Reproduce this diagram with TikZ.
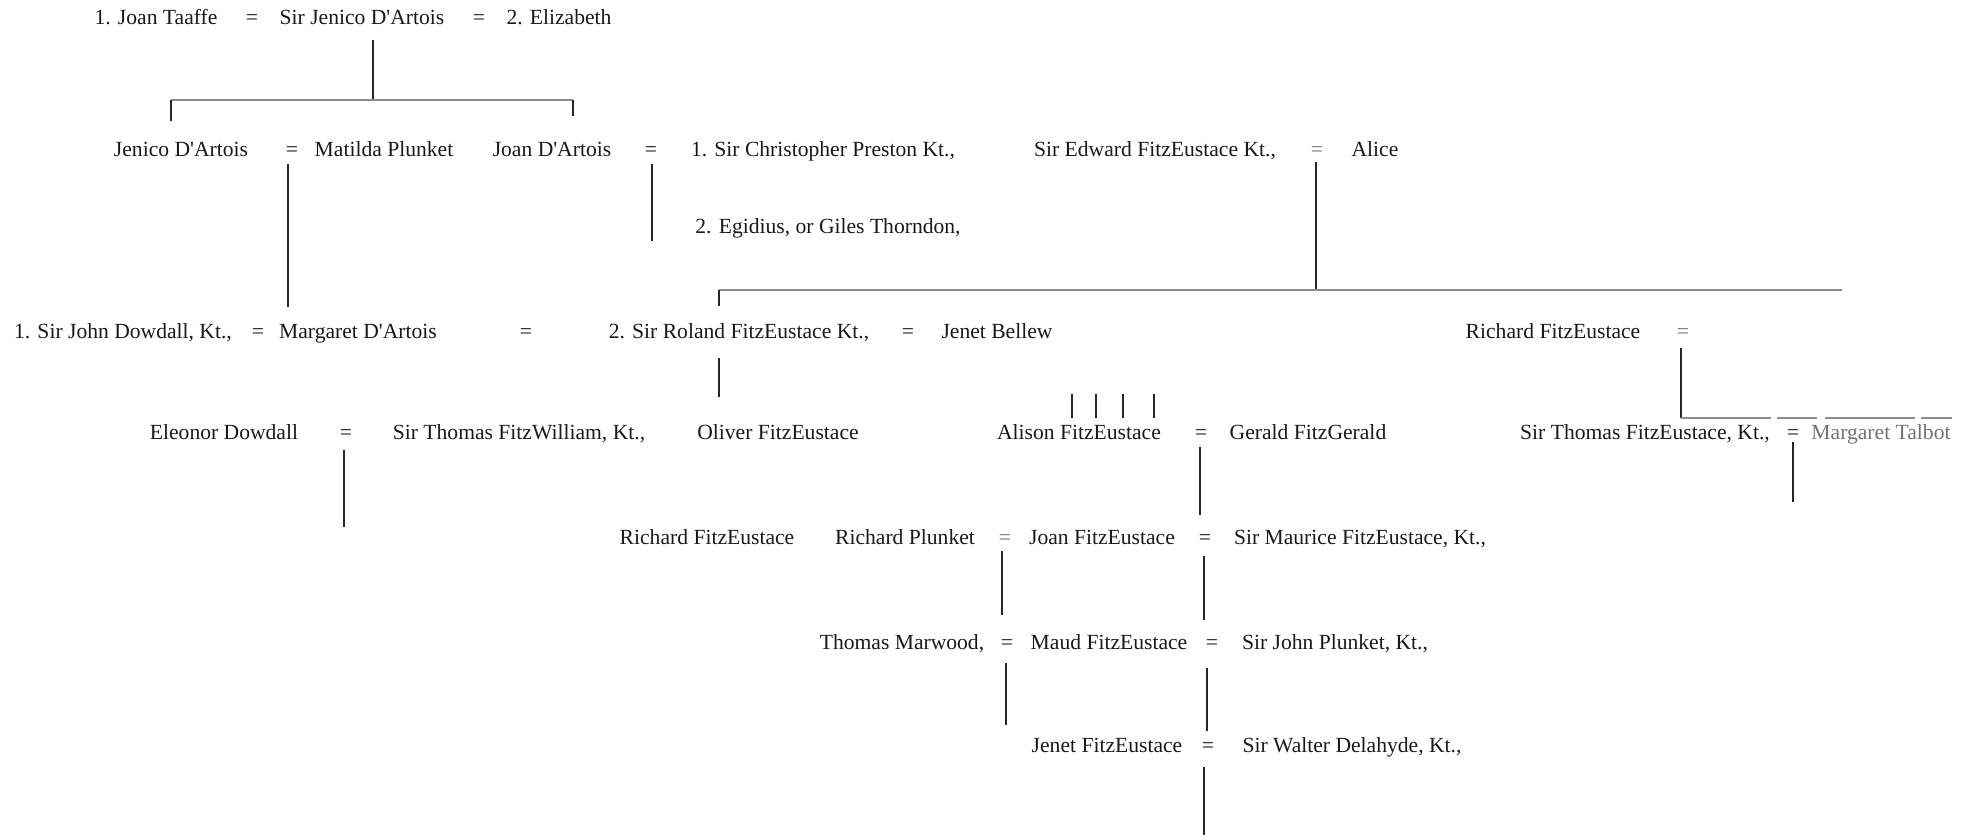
\documentclass[tikz,border=0pt]{standalone}
\usepackage{fontspec}
\setmainfont{Liberation Serif}
\newcommand{\ap}{\textquotesingle}
\begin{document}
\begin{tikzpicture}[x=0.5pt,y=-0.5pt,
  person/.style={anchor=base,inner sep=0pt,text=black!90,font=\fontsize{10.8pt}{12pt}\selectfont},
  faint/.style={person,text=black!55},
  vline/.style={draw=black!85,line width=0.8pt},
  hline/.style={draw=black!45,line width=0.7pt}]
\useasboundingbox (0,0) rectangle (1972,835);
% Row A
\node[person] (a1) at (156,25) {1. Joan Taaffe};
\node[person] (eA1) at (252,25) {=};
\node[person] (a2) at (362,25) {Sir Jenico D\ap Artois};
\node[person] (eA2) at (479,25) {=};
\node[person] (a3) at (559,25) {2. Elizabeth};
% Row B
\node[person] (b1) at (181,156) {Jenico D\ap Artois};
\node[person] (eB1) at (292,156) {=};
\node[person] (b2) at (384,156) {Matilda Plunket};
\node[person] (b3) at (552,156) {Joan D\ap Artois};
\node[person] (eB2) at (651,156) {=};
\node[person] (b4) at (823,156) {1. Sir Christopher Preston Kt.,};
\node[person] (b5) at (1155,156) {Sir Edward FitzEustace Kt.,};
\node[faint] (eB3) at (1317,156) {=};
\node[person] (b6) at (1375,156) {Alice};
\node[person] (b7) at (828,233) {2. Egidius, or Giles Thorndon,};
% Row C
\node[person] (c1) at (123,338) {1. Sir John Dowdall, Kt.,};
\node[person] (eC1) at (258,338) {=};
\node[person] (c2) at (358,338) {Margaret D\ap Artois};
\node[person] (eC2) at (526,338) {=};
\node[person] (c3) at (739,338) {2. Sir Roland FitzEustace Kt.,};
\node[person] (eC3) at (908,338) {=};
\node[person] (c4) at (997,338) {Jenet Bellew};
\node[person] (c5) at (1553,338) {Richard FitzEustace};
\node[faint] (eC4) at (1683,338) {=};
% Row D
\node[person] (d1) at (224,439) {Eleonor Dowdall};
\node[person] (eD1) at (346,439) {=};
\node[person] (d2) at (519,439) {Sir Thomas FitzWilliam, Kt.,};
\node[person] (d3) at (778,439) {Oliver FitzEustace};
\node[person] (d4) at (1079,439) {Alison FitzEustace};
\node[person] (eD2) at (1201,439) {=};
\node[person] (d5) at (1308,439) {Gerald FitzGerald};
\node[person] (d6) at (1645,439) {Sir Thomas FitzEustace, Kt.,};
\node[person] (eD3) at (1793,439) {=};
\node[faint] (d7) at (1881,439) {Margaret Talbot};
% Row E
\node[person] (e1) at (707,544) {Richard FitzEustace};
\node[person] (e2) at (905,544) {Richard Plunket};
\node[faint] (eE1) at (1005,544) {=};
\node[person] (e3) at (1102,544) {Joan FitzEustace};
\node[person] (eE2) at (1205,544) {=};
\node[person] (e4) at (1360,544) {Sir Maurice FitzEustace, Kt.,};
% Row F
\node[person] (f1) at (902,649) {Thomas Marwood,};
\node[person] (eF1) at (1007,649) {=};
\node[person] (f2) at (1109,649) {Maud FitzEustace};
\node[person] (eF2) at (1212,649) {=};
\node[person] (f3) at (1335,649) {Sir John Plunket, Kt.,};
% Row G
\node[person] (g1) at (1107,752) {Jenet FitzEustace};
\node[person] (eG1) at (1208,752) {=};
\node[person] (g2) at (1352,752) {Sir Walter Delahyde, Kt.,};

% connector coordinates
\coordinate (pA) at (373,40);
\coordinate (jA) at (373,100);
\coordinate (jAl) at (171,100);
\coordinate (jAr) at (573,100);
\coordinate (tAl) at (171,121);
\coordinate (tAr) at (573,116);
\draw[vline] (pA) -- (jA);
\draw[hline] (jAl) -- (jAr);
\draw[vline] (jAl) -- (tAl);
\draw[vline] (jAr) -- (tAr);

\coordinate (pB1) at (288,164);
\coordinate (cB1) at (288,307);
\draw[vline] (pB1) -- (cB1);
\coordinate (pB2) at (652,164);
\coordinate (cB2) at (652,241);
\draw[vline] (pB2) -- (cB2);
\coordinate (pB3) at (1316,162);
\coordinate (jB3) at (1316,290);
\draw[vline] (pB3) -- (jB3);
\coordinate (jB3l) at (719,290);
\coordinate (jB3r) at (1842,290);
\coordinate (tB3l) at (719,306);
\draw[hline] (jB3l) -- (jB3r);
\draw[vline] (jB3l) -- (tB3l);

\coordinate (pC3) at (719,358);
\coordinate (cC3) at (719,397);
\draw[vline] (pC3) -- (cC3);
\foreach \k/\x in {1/1072,2/1096,3/1123,4/1154}{
  \coordinate (tk\k a) at (\x,394);
  \coordinate (tk\k b) at (\x,418);
  \draw[vline] (tk\k a) -- (tk\k b);
}
\coordinate (pC4) at (1681,348);
\coordinate (jC4) at (1681,418);
\coordinate (jC4r) at (1952,418);
\draw[vline] (pC4) -- (jC4);
\draw[hline,dash pattern=on 45pt off 3pt on 20pt off 4pt] (jC4) -- (jC4r);

\coordinate (pD1) at (344,450);
\coordinate (cD1) at (344,527);
\draw[vline] (pD1) -- (cD1);
\coordinate (pD2) at (1200,447);
\coordinate (cD2) at (1200,515);
\draw[vline] (pD2) -- (cD2);
\coordinate (pD3) at (1793,442);
\coordinate (cD3) at (1793,502);
\draw[vline] (pD3) -- (cD3);

\coordinate (pE1) at (1002,551);
\coordinate (cE1) at (1002,615);
\draw[vline] (pE1) -- (cE1);
\coordinate (pE2) at (1204,556);
\coordinate (cE2) at (1204,620);
\draw[vline] (pE2) -- (cE2);
\coordinate (pF1) at (1006,663);
\coordinate (cF1) at (1006,725);
\draw[vline] (pF1) -- (cF1);
\coordinate (pF2) at (1207,668);
\coordinate (cF2) at (1207,731);
\draw[vline] (pF2) -- (cF2);
\coordinate (pG1) at (1204,767);
\coordinate (cG1) at (1204,835);
\draw[vline] (pG1) -- (cG1);
\end{tikzpicture}
\end{document}
